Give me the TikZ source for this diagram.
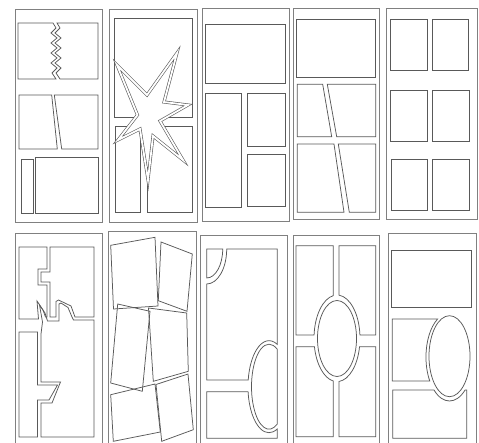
\documentclass[tikz,border=0pt]{standalone}
\begin{document}
\begin{tikzpicture}[x=1pt,y=-1pt,
  pg/.style={draw=black!50,line width=0.8pt},
  pn/.style={draw=black!65,line width=0.75pt},
  dbl/.style={draw=black!65,line width=0.6pt,double=white,double distance=1.8pt,fill=white}]
\useasboundingbox (0,0) rectangle (479,442);
\clip (0,0) rectangle (479,442);
\fill[white] (0,0) rectangle (479,442);

% ---------- page borders ----------
\draw[pg] (15,9) rectangle (102,222);
\draw[pg] (109,9) rectangle (197,222);
\draw[pg] (202,8) rectangle (289,221);
\draw[pg] (293,8) rectangle (379,219);
\draw[pg] (386,8) rectangle (477,219);
\draw[pg] (15,233) rectangle (102,450);
\draw[pg] (108,231) rectangle (196,450);
\draw[pg] (200,235) rectangle (287,450);
\draw[pg] (293,235) rectangle (379,450);
\draw[pg] (388,233) rectangle (476,450);

% ---------- page 1 ----------
\draw[pn] (18,23) -- (53,23) -- (56,28) -- (51,33) -- (57,38) -- (51,43) -- (57,48) -- (51,53) -- (57,58) -- (51,63) -- (57,68) -- (52,73) -- (56,79) -- (18,79) -- cycle;
\draw[pn] (57,23) -- (98,23) -- (98,79) -- (60,79) -- (56,73) -- (61,68) -- (55,63) -- (61,58) -- (55,53) -- (61,48) -- (55,43) -- (61,38) -- (55,33) -- (60,28) -- cycle;
\draw[pn] (19,95) -- (51.7,95) -- (57.3,149) -- (19,149) -- cycle;
\draw[pn] (54.3,95) -- (98,95) -- (98,149) -- (61.7,149) -- cycle;
\draw[pn] (21,159) rectangle (33,213);
\draw[pn] (35,157) rectangle (98,213);

% ---------- page 2 ----------
\draw[pn] (114,18) rectangle (192,117);
\draw[pn] (115,126) rectangle (140,212);
\draw[pn] (147,126) rectangle (192,212);
\draw[dbl] (117,65) -- (147,95) -- (177,53) -- (164,102) -- (188,105) -- (160,121) -- (183,160) -- (153,136) -- (148,180) -- (140,129) -- (118,140) -- (137.5,115) -- cycle;

% ---------- page 3 ----------
\draw[pn] (205.7,24) rectangle (285.7,83);
\draw[pn] (205.7,93) rectangle (241.7,207);
\draw[pn] (247,93) rectangle (285.7,146);
\draw[pn] (247,154) rectangle (285.7,206);

% ---------- page 4 ----------
\draw[pn] (296.7,19) rectangle (375.7,77);
\draw[pn] (297.3,84.3) -- (322.7,84.3) -- (331.7,136.7) -- (297.3,136.7) -- cycle;
\draw[pn] (327.3,84.3) -- (375.7,84.3) -- (375.7,136.7) -- (336.7,136.7) -- cycle;
\draw[pn] (297.3,144) -- (334,144) -- (344,212.3) -- (297.3,212.3) -- cycle;
\draw[pn] (338.3,144) -- (375.7,144) -- (375.7,212.3) -- (349.3,212.3) -- cycle;

% ---------- page 5 ----------
\draw[pn] (390.7,19) rectangle (427.7,70);
\draw[pn] (432,19) rectangle (468.7,70);
\draw[pn] (390.7,90) rectangle (427.7,141.7);
\draw[pn] (432,90) rectangle (469,141.7);
\draw[pn] (391,159) rectangle (427.7,210.7);
\draw[pn] (432,159) rectangle (469,210.7);

% ---------- page 6 ----------
\draw[pn] (19,247) -- (47,247) -- (47,269) -- (38,269) -- (38,285) -- (47,285) -- (47,317) -- (45.5,317) -- (43,310) -- (37,301) -- (38.5,319) -- (19,319) -- cycle;
\draw[pn] (50,247) -- (94,247) -- (94,317) -- (75,317) -- (71,306) -- (58.5,300) -- (56,301.5) -- (56,317) -- (50,317) -- (50,282) -- (41,282) -- (41,272) -- (50,272) -- cycle;
\draw[pn] (41,437) -- (41,403) -- (52,403) -- (60.5,382) -- (41,382) -- (41,334) -- (42.5,322) -- (39.5,305) -- (45,313) -- (47.5,321) -- (59,321) -- (59,304) -- (61,303) -- (68,307.5) -- (72,317) -- (73.5,320) -- (94,320) -- (94,437) -- cycle;
\draw[pn] (19,332) -- (37.5,332) -- (37.5,385) -- (57.5,385) -- (49,400) -- (37.5,400) -- (37.5,437) -- (19,437) -- cycle;

% ---------- page 7 ----------
\draw[pn] (110.7,245.3) -- (155,237.3) -- (158,306) -- (113.5,309) -- cycle;
\draw[pn] (161,242) -- (192.3,254) -- (187,311.3) -- (158.3,300.7) -- cycle;
\draw[pn] (117.7,304) -- (150,311.3) -- (142.3,391.3) -- (110.7,383) -- cycle;
\draw[pn] (148.5,308) -- (186.7,313) -- (188.3,371.3) -- (153.3,381.3) -- cycle;
\draw[pn] (110.7,394.7) -- (155,384) -- (160.3,432) -- (113.3,441.3) -- cycle;
\draw[pn] (156,384.5) -- (188,374) -- (193.3,429.7) -- (161.7,441.3) -- cycle;

% ---------- page 8 ----------
\draw[pn] (206.7,249) -- (222.7,249) arc[start angle=0,end angle=90,x radius=16,y radius=29] -- cycle;
\draw[pn] (226.7,249) -- (277.3,249) -- (277.3,344.4) arc[start angle=-66.7,end angle=-171.62,x radius=21,y radius=46] -- (206.7,380) -- (206.7,284) arc[start angle=90,end angle=0,x radius=20,y radius=35] -- cycle;
\draw[pn] (206.7,391.7) -- (248.1,391.7) arc[start angle=173.76,end angle=66.7,x radius=21,y radius=46] -- (277.3,438.3) -- (206.7,438.3) -- cycle;
\draw[pn] (277.3,424.1) arc[start angle=61.7,end angle=298.3,x radius=17.5,y radius=42.5] -- cycle;

% ---------- page 9 ----------
\draw[pn] (296,245.7) -- (333.3,245.7) -- (333.3,295.6) arc[start angle=-99.26,end angle=-175.63,x radius=23,y radius=43.3] -- (296,335) -- cycle;
\draw[pn] (339,245.7) -- (375.7,245.7) -- (375.7,335) -- (359.93,335) arc[start angle=-4.37,end angle=-85,x radius=23,y radius=43.3] -- cycle;
\draw[pn] (296,346.7) -- (314.44,346.7) arc[start angle=168.81,end angle=99.26,x radius=23,y radius=43.3] -- (333.3,436.7) -- (296,436.7) -- cycle;
\draw[pn] (339,436.7) -- (339,381.47) arc[start angle=85,end angle=11.19,x radius=23,y radius=43.3] -- (375.7,346.7) -- (375.7,436.7) -- cycle;
\draw[pn] (337,338.5) ellipse[x radius=19.5,y radius=38];

% ---------- page 10 ----------
\draw[pn] (391.7,250) rectangle (471.7,307.7);
\draw[pn] (392.3,319) -- (437.6,319) arc[start angle=-120.3,end angle=-213.06,x radius=23.5,y radius=44] -- (392.3,381) -- cycle;
\draw[pn] (392.7,390) -- (433.97,390) arc[start angle=131.4,end angle=48.6,x radius=23.5,y radius=44] -- (466.7,390) -- (466.7,438.3) -- (392.7,438.3) -- cycle;
\draw[pn] (449.5,356.2) ellipse[x radius=20.5,y radius=40.5];
\end{tikzpicture}
\end{document}
